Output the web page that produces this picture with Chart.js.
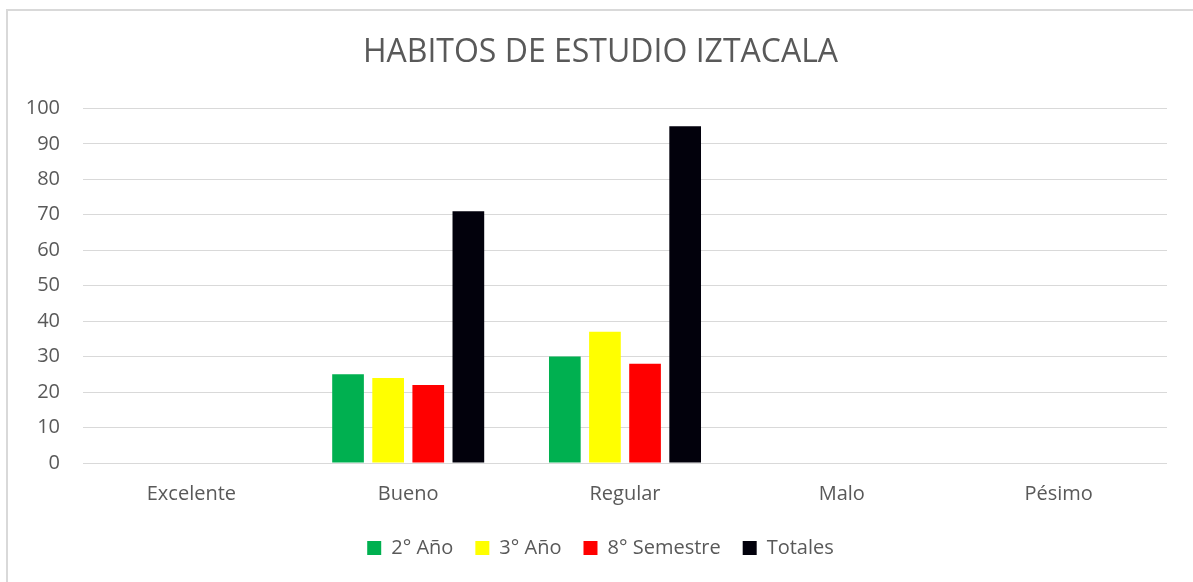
<!DOCTYPE html>
<html>
<head>
<meta charset="utf-8">
<script src="https://cdn.jsdelivr.net/npm/chart.js@4.4.1/dist/chart.umd.min.js"></script>
<style>
  html, body { margin: 0; padding: 0; background: #fff; overflow: hidden; }
  #frame {
    position: absolute; left: 6px; top: 9px; width: 1300px; height: 700px;
    border: 2px solid #d9d9d9; box-sizing: border-box;
  }
  #wrap { position: absolute; left: 0; top: 0; width: 1193px; height: 582px; }
</style>
</head>
<body>
<div id="frame"></div>
<div id="wrap"><canvas id="habitos"></canvas></div>
<script>
const categories = ["Excelente", "Bueno", "Regular", "Malo", "Pésimo"];
const segundoAnio = [0, 25, 30, 0, 0];
const tercerAnio = [0, 24, 37, 0, 0];
const octavoSemestre = [0, 22, 28, 0, 0];
const totales = [0, 71, 95, 0, 0];

const gray = '#595959';
const fontName = '"Open Sans", sans-serif';

const chart = new Chart(document.getElementById('habitos'), {
  type: 'bar',
  data: {
    labels: categories,
    datasets: [
      { label: '2° Año', data: segundoAnio, backgroundColor: '#00b050' },
      { label: '3° Año', data: tercerAnio, backgroundColor: '#ffff00' },
      { label: '8° Semestre', data: octavoSemestre, backgroundColor: '#ff0000' },
      { label: 'Totales', data: totales, backgroundColor: '#02010c' }
    ]
  },
  options: {
    responsive: true,
    maintainAspectRatio: false,
    animation: false,
    datasets: { bar: { categoryPercentage: 0.74, barPercentage: 0.79 } },
    layout: { padding: { left: 8, right: 0, top: 0, bottom: 14 } },
    plugins: {
      tooltip: { enabled: false },
      title: {
        display: true,
        text: 'HABITOS DE ESTUDIO IZTACALA',
        color: gray,
        font: { family: fontName, size: 32, weight: 'normal' },
        padding: { top: 34, bottom: 36 }
      },
      legend: {
        position: 'bottom',
        labels: {
          color: gray,
          font: { family: fontName, size: 20 },
          boxWidth: 14, boxHeight: 14,
          padding: 22
        }
      }
    },
    scales: {
      x: {
        grid: { display: false, drawTicks: false },
        border: { display: false },
        ticks: { color: gray, font: { family: fontName, size: 20 }, padding: 19 },
        afterFit: function (s) { s.height = 53; }
      },
      y: {
        min: 0, max: 100,
        grid: { color: '#d9d9d9', lineWidth: 1, drawTicks: false },
        border: { display: false },
        ticks: { stepSize: 10, color: gray, font: { family: fontName, size: 20 }, padding: 23 },
        afterFit: function (s) { s.width = 75; }
      },
      // empty right-hand axis, only keeps the right margin so title and legend stay centred
      yRight: {
        type: 'linear', position: 'right', min: 0, max: 100,
        grid: { display: false, drawTicks: false },
        border: { display: false },
        ticks: { display: false },
        afterFit: function (s) { s.width = 26; }
      }
    }
  }
});
</script>
</body>
</html>
